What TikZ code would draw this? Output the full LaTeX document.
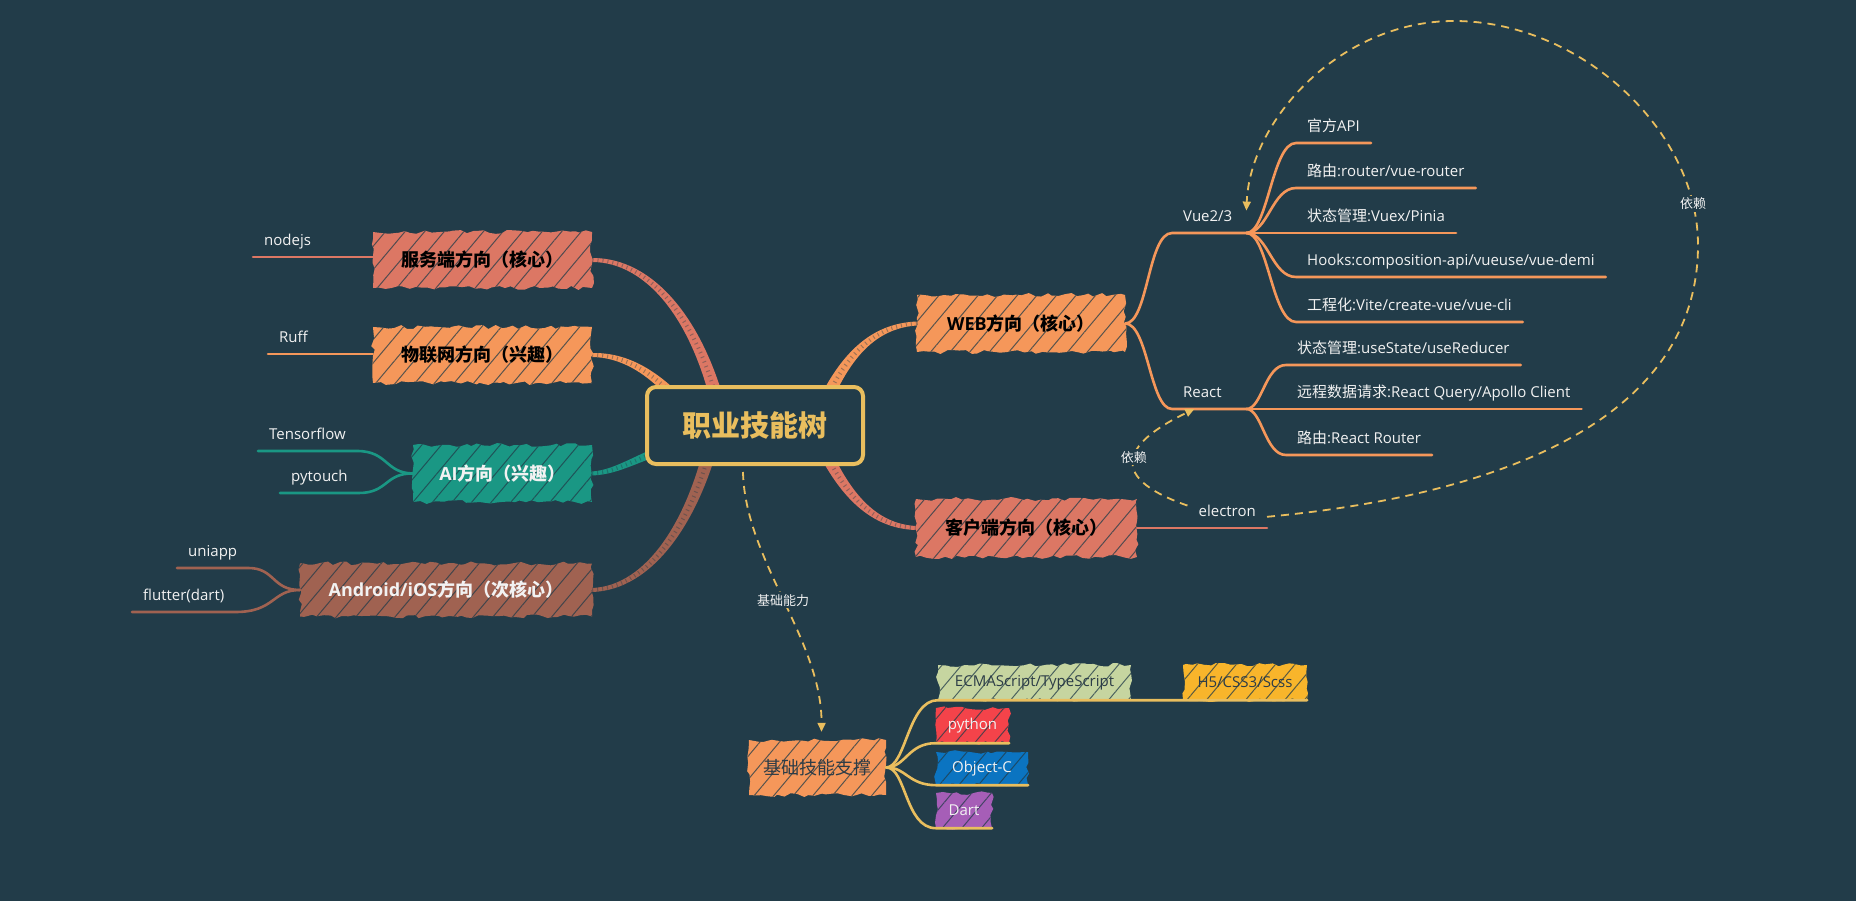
\documentclass[tikz,border=0pt]{standalone}
\usepackage{fontspec}
\setmainfont{Open Sans}
\newfontfamily\zhfont{Noto Sans CJK SC}
\newcommand\zh[1]{{\zhfont #1}}
\usetikzlibrary{calc,arrows.meta,patterns.meta,decorations.pathmorphing,backgrounds}
\definecolor{bg}{HTML}{223C49}
\definecolor{salm}{HTML}{DC7764}
\definecolor{orng}{HTML}{F5975A}
\definecolor{cteal}{HTML}{1A9784}
\definecolor{brwn}{HTML}{A06251}
\definecolor{yel}{HTML}{E9BE5E}
\definecolor{ecmac}{HTML}{C6D5A0}
\definecolor{amber}{HTML}{F8B52B}
\definecolor{pyred}{HTML}{F4434A}
\definecolor{ocblue}{HTML}{0B74C1}
\definecolor{dartp}{HTML}{A65EB7}
\definecolor{txtw}{HTML}{F2F2F2}
\definecolor{txtd}{HTML}{2C3C47}
\newcommand\mmbranch[7]{%
  \pgfmathsetlengthmacro\mmwa{#6pt+(#7pt-#6pt)/3}%
  \pgfmathsetlengthmacro\mmwb{#6pt+2*(#7pt-#6pt)/3}%
  \fill[#1] ($#2!#6pt!90:#3$) .. controls ($#3!\mmwa!90:#4$) and ($#4!\mmwb!90:#5$) .. ($#5!#7pt!-90:#4$) -- ($#5!#7pt!90:#4$) .. controls ($#4!\mmwb!-90:#5$) and ($#3!\mmwa!-90:#4$) .. ($#2!#6pt!-90:#3$) -- cycle;%
  \draw[bg, opacity=.4, line width=4pt, dash pattern=on 1pt off 4pt] #2 .. controls #3 and #4 .. #5;%
}
\pgfmathsetseed{7}
\begin{document}
\begin{tikzpicture}[x=1pt,y=-1pt,
  sk/.style={preaction={fill=#1}, pattern={Lines[angle=50,distance=15pt,line width=1pt]}, pattern color=bg!75!#1, decorate, decoration={random steps,segment length=6pt,amplitude=2pt}},
  mbox/.style={sk=#1, inner sep=0pt, font=\fontsize{18}{22}\selectfont\bfseries, text=black},
  sbox/.style={sk=#1, inner sep=0pt, font=\fontsize{15}{18}\selectfont},
  root/.style={draw=yel, line width=4pt, rounded corners=9pt, fill=bg, minimum width=216pt, minimum height=77pt, inner sep=0pt, text=yel, font=\fontsize{29}{34}\selectfont\bfseries},
  leaf/.style={anchor=south west, inner xsep=11pt, inner ysep=0pt, text height=11pt, text depth=11pt, font=\fontsize{15}{18}\selectfont, text=txtw},
  lk/.style={draw=#1, line width=2.6pt, line cap=round},
  dep/.style={draw=yel, line width=1.8pt, dash pattern=on 8pt off 6pt, -{Triangle[length=9pt,width=8pt]}},
  lbl/.style={fill=bg, inner sep=2pt, font=\fontsize{13}{15}\selectfont, text=txtw}]
\useasboundingbox (0,0) rectangle (1856,901);

% main nodes
\node[root] (root) at (755,425.5) {\zh{职业技能树}};
\node[mbox=salm, minimum width=219pt, minimum height=56pt] (srv) at (482.5,260) {\zh{服务端方向（核心）}};
\node[mbox=orng, minimum width=219pt, minimum height=56pt] (iot) at (482.5,355) {\zh{物联网方向（兴趣）}};
\node[mbox=cteal, minimum width=179pt, minimum height=57pt, text=txtw] (ai) at (502.5,473.5) {AI\zh{方向（兴趣）}};
\node[mbox=brwn, minimum width=292pt, minimum height=53pt, text=txtw] (mob) at (446,590) {Android/iOS\zh{方向（次核心）}};
\node[mbox=orng, minimum width=208pt, minimum height=57pt] (web) at (1021,323.5) {WEB\zh{方向（核心）}};
\node[mbox=salm, minimum width=221pt, minimum height=58pt] (cli) at (1026.5,528) {\zh{客户端方向（核心）}};

% left leaves
\node[leaf] (nodejs) at (253,257) {nodejs};
\draw[lk=salm] (nodejs.south west) -- (nodejs.south -| srv.west);
\node[leaf] (ruff) at (268,354) {Ruff};
\draw[lk=orng] (ruff.south west) -- (ruff.south -| iot.west);
\node[leaf] (tf) at (258,451) {Tensorflow};
\draw[lk=cteal] (tf.south west) -- (tf.south east) .. controls (388,451) and (385,473) .. (ai.west);
\node[leaf] (pyt) at (280,493) {pytouch};
\draw[lk=cteal] (pyt.south west) -- (pyt.south east) .. controls (388,493) and (385,473) .. (ai.west);
\node[leaf] (uni) at (177,568) {uniapp};
\draw[lk=brwn] (uni.south west) -- (uni.south east) .. controls (275,568) and (272,590) .. (mob.west);
\node[leaf] (flt) at (132,612) {flutter(dart)};
\draw[lk=brwn] (flt.south west) -- (flt.south east) .. controls (275,612) and (272,590) .. (mob.west);

% web
\node[leaf, text width=52pt, align=left] (vue) at (1172,233) {Vue2/3};
\draw[lk=orng] (web.east) .. controls (1148,323.5) and (1148,233) .. (vue.south west) -- (vue.south east);
\node[leaf, text width=52pt, align=left] (react) at (1172,409) {React};
\draw[lk=orng] (web.east) .. controls (1148,323.5) and (1150,409) .. (react.south west) -- (react.south east);

\node[leaf] (v1) at (1296,143) {\zh{官方}API};
\node[leaf] (v2) at (1296,188) {\zh{路由}:router/vue-router};
\node[leaf] (v3) at (1296,233) {\zh{状态管理}:Vuex/Pinia};
\node[leaf] (v4) at (1296,277) {Hooks:composition-api/vueuse/vue-demi};
\node[leaf] (v5) at (1296,322) {\zh{工程化}:Vite/create-vue/vue-cli};
\draw[lk=orng] (vue.south east) .. controls (1268,233) and (1272,143) .. (v1.south west) -- (v1.south east);
\draw[lk=orng] (vue.south east) .. controls (1268,233) and (1272,188) .. (v2.south west) -- (v2.south east);
\draw[lk=orng] (vue.south east) -- (v3.south west) -- (v3.south east);
\draw[lk=orng] (vue.south east) .. controls (1268,233) and (1272,277) .. (v4.south west) -- (v4.south east);
\draw[lk=orng] (vue.south east) .. controls (1268,233) and (1272,322) .. (v5.south west) -- (v5.south east);

\node[leaf] (r1) at (1286,365) {\zh{状态管理}:useState/useReducer};
\node[leaf] (r2) at (1286,409) {\zh{远程数据请求}:React Query/Apollo Client};
\node[leaf] (r3) at (1286,455) {\zh{路由}:React Router};
\draw[lk=orng] (react.south east) .. controls (1262,409) and (1265,365) .. (r1.south west) -- (r1.south east);
\draw[lk=orng] (react.south east) -- (r2.south west) -- (r2.south east);
\draw[lk=orng] (react.south east) .. controls (1262,409) and (1265,455) .. (r3.south west) -- (r3.south east);

% client
\node[leaf, anchor=south east] (elec) at (1267,528) {electron};
\draw[lk=salm] (cli.east) -- (elec.south west) -- (elec.south east);

% base
\node[sk=orng, inner sep=0pt, minimum width=137pt, minimum height=55pt, font=\fontsize{18}{22}\selectfont, text=txtd] (base) at (817.5,767.5) {\zh{基础技能支撑}};
\node[sbox=ecmac, minimum width=193pt, minimum height=35pt, text=txtd] (ecma) at (1034.5,682.5) {ECMAScript/TypeScript};
\node[sbox=amber, minimum width=124pt, minimum height=35pt, text=txtd] (h5) at (1245,682.5) {H5/CSS3/Scss};
\node[sbox=pyred, minimum width=73pt, minimum height=35pt, text=txtw] (py) at (972.5,725.5) {python};
\node[sbox=ocblue, minimum width=92pt, minimum height=33pt, text=txtw] (objc) at (982,768.5) {Object-C};
\node[sbox=dartp, minimum width=56pt, minimum height=35pt, text=txtw] (dart) at (964,810.5) {Dart};
\draw[lk=yel] (base.east) .. controls (906,767) and (908,700) .. (ecma.south west) -- (ecma.south east) -- (h5.south west) -- (h5.south east);
\draw[lk=yel] (base.east) .. controls (906,767) and (908,743) .. (py.south west) -- (py.south east);
\draw[lk=yel] (base.east) .. controls (906,767) and (908,785) .. (objc.south west) -- (objc.south east);
\draw[lk=yel] (base.east) .. controls (906,767) and (905,828) .. (dart.south west) -- (dart.south east);

% dependencies
\draw[dep] (elec.east) .. controls (1500,495) and (1698,420) .. (1698,245) .. controls (1698,130) and (1580,21) .. (1454,21) node[lbl,pos=0.12]{\zh{依赖}} .. controls (1340,21) and (1250,120) .. (vue.north east);
\draw[dep] (elec.north west) .. controls (1100,475) and (1130,440) .. ($(react.south west)!0.3!(react.south east)$) node[lbl,pos=0.5]{\zh{依赖}};
\draw[dep] ($(root.south)+(-12,6)$) .. controls (745,560) and (822,640) .. ($(base.north)+(4,-8)$) node[lbl,pos=0.5]{\zh{基础能力}};

\begin{scope}[on background layer]
\fill[bg] (0,0) rectangle (1856,901);
\mmbranch{salm}{(srv.east)}{(650,260)}{(700,320)}{(722,420)}{2}{7}
\mmbranch{orng}{(iot.east)}{(630,355)}{(662,378)}{(695,420)}{2}{6}
\mmbranch{cteal}{(ai.east)}{(620,472)}{(640,455)}{(690,440)}{2}{5}
\mmbranch{brwn}{(mob.east)}{(650,588)}{(695,520)}{(715,430)}{2}{7}
\mmbranch{orng}{(web.west)}{(870,326)}{(840,360)}{(815,425)}{2}{7}
\mmbranch{salm}{(cli.west)}{(870,526)}{(840,490)}{(815,430)}{2}{7}
\end{scope}
\end{tikzpicture}
\end{document}
